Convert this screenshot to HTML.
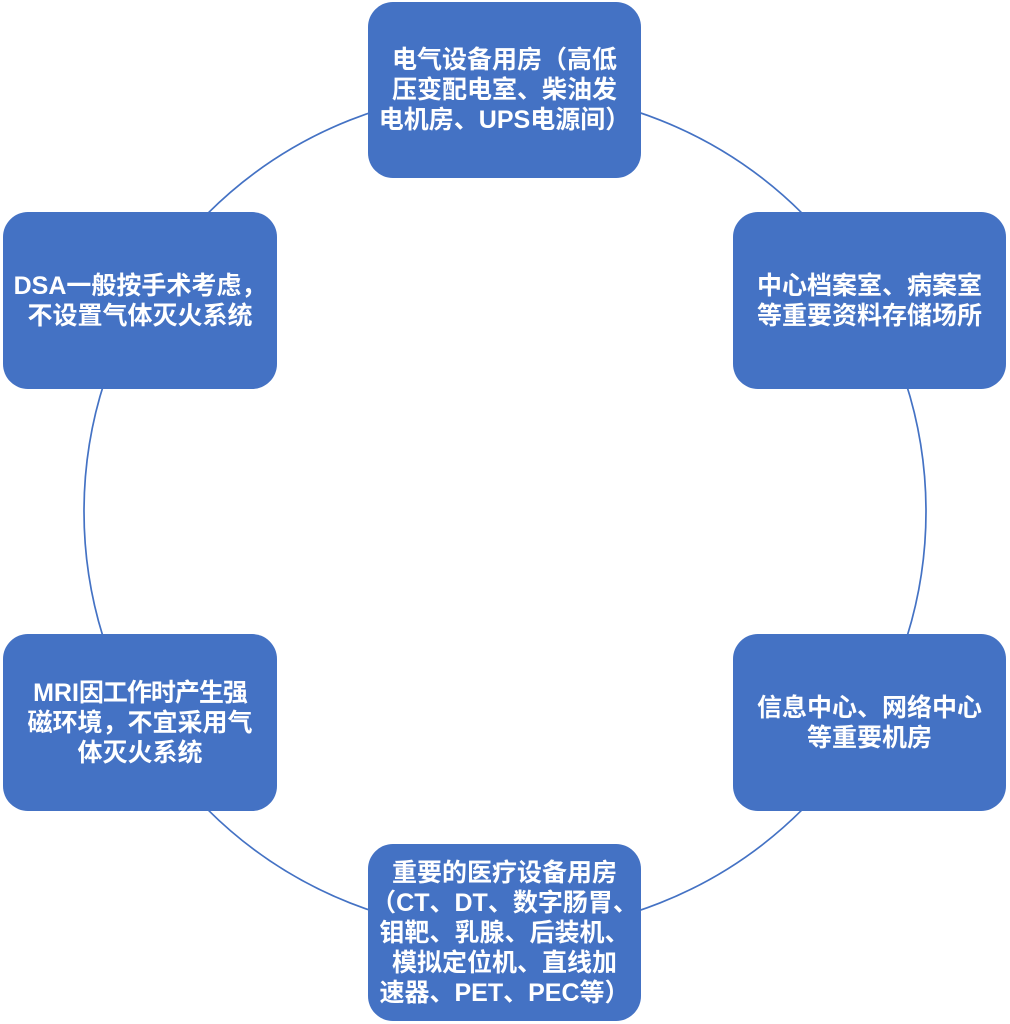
<!DOCTYPE html>
<html>
<head>
<meta charset="utf-8">
<style>
  html, body { margin:0; padding:0; background:#ffffff; }
  body { width:1010px; height:1024px; position:relative; overflow:hidden; }
  svg { position:absolute; left:0; top:0; }
  .box {
    position:absolute;
    background:#4472C4;
    border-radius:25px;
    display:flex;
    align-items:center;
    justify-content:center;
    color:#ffffff;
    font-family:"Liberation Sans","Noto Sans CJK SC",sans-serif;
    font-weight:bold;
    font-size:25px;
    line-height:30px;
    text-align:center;
    white-space:nowrap;
  }
  .box div { width:100%; }
</style>
</head>
<body>
<svg width="1010" height="1024" viewBox="0 0 1010 1024">
  <circle cx="505" cy="511.5" r="421" fill="none" stroke="#4472C4" stroke-width="1.7"/>
</svg>

<div class="box" style="left:368px;top:2px;width:273px;height:176px;">
  <div>电气设备用房（高低<br>压变配电室、柴油发<br>电机房、UPS电源间）</div>
</div>

<div class="box" style="left:733px;top:212px;width:273px;height:177px;">
  <div>中心档案室、病案室<br>等重要资料存储场所</div>
</div>

<div class="box" style="left:733px;top:634px;width:273px;height:177px;">
  <div>信息中心、网络中心<br>等重要机房</div>
</div>

<div class="box" style="left:368px;top:844px;width:273px;height:177px;">
  <div>重要的医疗设备用房<br>（CT、DT、数字肠胃、<br>钼靶、乳腺、后装机、<br>模拟定位机、直线加<br>速器、PET、PEC等）</div>
</div>

<div class="box" style="left:3px;top:634px;width:274px;height:177px;">
  <div>MRI<span style="letter-spacing:-1px;">因工作时产生强</span><br>磁环境，不宜采用气<br>体灭火系统</div>
</div>

<div class="box" style="left:3px;top:212px;width:274px;height:177px;">
  <div>DSA一般按手术考虑，<br>不设置气体灭火系统</div>
</div>
</body>
</html>
